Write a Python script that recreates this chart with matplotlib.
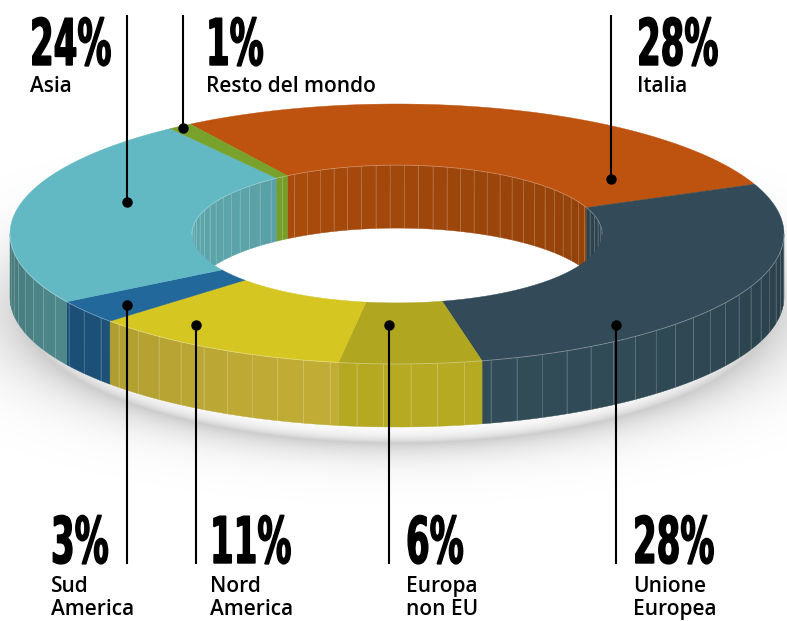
import numpy as np
import matplotlib
matplotlib.use('Agg')
import matplotlib.pyplot as plt
from matplotlib.patches import Polygon
from matplotlib.colors import to_rgb
from matplotlib.transforms import Affine2D
from matplotlib import patheffects

# export share by destination, clockwise from the top
regions = ['Italia', 'Unione\nEuropea', 'Europa\nnon EU', 'Nord\nAmerica',
           'Sud\nAmerica', 'Asia', 'Resto del mondo']
shares = [28, 28, 6, 11, 3, 24, 1]

top_colors = ['#BE520F', '#334B58', '#B0A620', '#D5C621', '#22689A', '#63B9C3', '#78A22C']
side_colors = ['#B8500E', '#304A56', '#B3A722', '#C0AC35', '#205983', '#599C9F', '#6F9628']
inner_colors = ['#AF4E0C', '#344F5C', '#B0A620', '#C9BA28', '#22689A', '#5CA6AB', '#7AA52B']

# leader line x, dot y, text x, label row (0 = above, 1 = below)
label_layout = [(611, 179, 637, 0), (616, 325, 633, 1), (389, 325, 406, 1),
                (196, 325, 210, 1), (127, 305, 51, 1), (127, 202, 30, 0),
                (183, 128, 206, 0)]

W, H = 787, 621
CX, CY = 397, 234          # centre of the top face
RX, RY = 387, 130          # outer radii of the top face
RIN = 0.53                 # hole size
DEPTH = 63                 # ring thickness
START = 122.3              # angle of the first slice edge
STEP = 4                   # facet width in degrees


class Condensed(patheffects.AbstractPathEffect):
    """Stretch glyphs around the text origin (tall, narrow figures) and thicken them a bit."""

    def __init__(self, sx=1.0, sy=1.85, stroke=1.0):
        super().__init__()
        self.sx = sx
        self.sy = sy
        self.stroke = stroke

    def draw_path(self, renderer, gc, tpath, affine, rgbFace=None):
        m = affine.get_matrix()
        x0, y0 = m[0, 2], m[1, 2]
        stretch = Affine2D().translate(-x0, -y0).scale(self.sx, self.sy).translate(x0, y0)
        gc0 = renderer.new_gc()
        gc0.copy_properties(gc)
        gc0.set_linewidth(self.stroke)
        gc0.set_foreground(rgbFace)
        gc0.set_joinstyle('miter')
        renderer.draw_path(gc0, tpath, affine + stretch, rgbFace)
        gc0.restore()


def ell(t, k=1.0, dy=0.0):
    r = np.radians(t)
    return CX + RX * k * np.cos(r), CY - RY * k * np.sin(r) + dy


def shade_outer(t):
    return 0.8 + 0.22 * np.cos(np.radians(t + 80))


def shade_inner(t):
    return 0.92 - 0.08 * np.cos(np.radians(t))


def wall(ax, lo, hi, k, color, shade, z):
    grid = np.arange(np.floor(lo / STEP) * STEP, hi + STEP, STEP)
    cuts = np.unique(np.clip(np.r_[lo, grid, hi], lo, hi))
    base = np.array(to_rgb(color))
    for a, b in zip(cuts[:-1], cuts[1:]):
        t = np.linspace(a, b, 8)
        x, y = ell(t, k)
        c = np.clip(base * shade((a + b) / 2), 0, 1)
        pts = np.column_stack([np.r_[x, x[::-1]], np.r_[y, y[::-1] + DEPTH]])
        ax.add_patch(Polygon(pts, closed=True, fc=c, ec=c, lw=0.3, zorder=z))
    for a in cuts[1:-1]:
        x, y = ell(a, k)
        ax.plot([x, x], [y, y + DEPTH], color='white', alpha=0.2, lw=0.6, zorder=z + 0.1)


fig = plt.figure(figsize=(W / 100, H / 100), dpi=100)
ax = fig.add_axes([0, 0, 1, 1])
ax.set_xlim(0, W)
ax.set_ylim(H, 0)
ax.axis('off')

# soft floor shadow under the front of the ring
gx, gy = np.meshgrid(np.arange(W) + 0.5, np.arange(H) + 0.5)
rho = np.hypot((gx - CX) / (RX - 14), (gy - (CY + DEPTH + 14)) / (RY + 2))
alpha = np.where(rho > 1, 0.2 * np.exp(-(rho - 1) / 0.12), 0.2 * np.exp(-(1 - rho) / 0.05))
shadow = np.zeros((H, W, 4))
shadow[..., 3] = alpha
ax.imshow(shadow, extent=(0, W, H, 0), zorder=0, interpolation='bilinear')

spans = np.array(shares) / sum(shares) * 360
edges = START - np.concatenate([[0], np.cumsum(spans)])

for i in range(len(shares)):
    e0, e1 = edges[i], edges[i + 1]
    # outer side, front half only
    lo, hi = max(e1, -180), min(e0, 0)
    if hi > lo:
        wall(ax, lo, hi, 1.0, side_colors[i], shade_outer, 1)
    # inner wall, back half only
    for blo, bhi in [(0, 180), (-360, -180)]:
        lo, hi = max(e1, blo), min(e0, bhi)
        if hi > lo:
            wall(ax, lo, hi, RIN, inner_colors[i], shade_inner, 2)
    # top face
    t = np.linspace(e0, e1, 120)
    xo, yo = ell(t)
    xi, yi = ell(t[::-1], RIN)
    pts = np.column_stack([np.r_[xo, xi], np.r_[yo, yi]])
    ax.add_patch(Polygon(pts, closed=True, fc=top_colors[i], ec=top_colors[i], lw=0.3, zorder=3))

# thin highlights on the front rim and the back of the hole
t = np.linspace(-180, 0, 200)
ax.plot(*ell(t), color='white', alpha=0.35, lw=0.6, zorder=4)
t = np.linspace(0, 180, 200)
ax.plot(*ell(t, RIN), color='white', alpha=0.3, lw=0.6, zorder=4)

# leader lines and labels
for name, val, (lx, dy, tx, row) in zip(regions, shares, label_layout):
    if row == 0:
        ax.plot([lx, lx], [15, dy], color='black', lw=1.5, zorder=5, solid_capstyle='butt')
        pct_y, name_y = 65, 92
    else:
        ax.plot([lx, lx], [dy, 564], color='black', lw=1.5, zorder=5, solid_capstyle='butt')
        pct_y, name_y = 563, 592
    ax.plot(lx, dy, 'o', color='black', ms=6.5, zorder=6)
    ax.text(tx, pct_y, f'{val}%', fontsize=25, fontweight='bold', family='DejaVu Sans',
            ha='left', va='baseline', color='black', zorder=7,
            path_effects=[Condensed(0.98, 1.85, 1.0)])
    for j, line in enumerate(name.split('\n')):
        ax.text(tx, name_y + 23 * j, line, fontsize=15, fontweight='semibold',
                family=['Open Sans', 'DejaVu Sans'],
                ha='left', va='baseline', color='black', zorder=7)

fig.savefig('out.png', dpi=100)
plt.close(fig)
